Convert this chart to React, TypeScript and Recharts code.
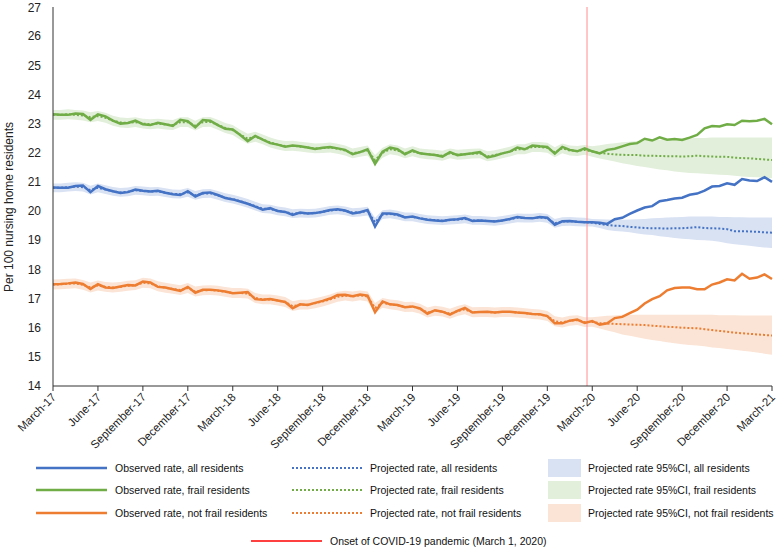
import { ComposedChart, Line, Area, XAxis, YAxis, ReferenceLine, Label } from 'recharts';

// half-month steps from March 2017 (0) to March 2021 (48)
const halfMonths = Array.from({ length: 97 }, (_, i) => i / 2);

const tickMonths = [0, 3, 6, 9, 12, 15, 18, 21, 24, 27, 30, 33, 36, 39, 42, 45, 48];
const tickLabels = [
  'March-17', 'June-17', 'September-17', 'December-17',
  'March-18', 'June-18', 'September-18', 'December-18',
  'March-19', 'June-19', 'September-19', 'December-19',
  'March-20', 'June-20', 'September-20', 'December-20', 'March-21',
];
const yTicks = [14, 15, 16, 17, 18, 19, 20, 21, 22, 23, 24, 25, 26, 27];
const onsetMonth = 35.65;

const observedAll = [
  20.81, 20.80, 20.80, 20.86, 20.88, 20.65, 20.86, 20.75, 20.68, 20.62, 20.65, 20.74, 20.70, 20.67, 20.70, 20.63, 20.58, 20.55, 20.68, 20.50, 20.62, 20.64, 20.55, 20.45,
  20.40, 20.33, 20.25, 20.15, 20.05, 20.10, 20.00, 19.97, 19.87, 19.95, 19.92, 19.93, 19.98, 20.04, 20.06, 20.02, 19.92, 19.96, 20.04, 19.47, 19.92, 19.92, 19.88, 19.78,
  19.81, 19.75, 19.70, 19.68, 19.66, 19.70, 19.72, 19.76, 19.66, 19.68, 19.66, 19.64, 19.68, 19.73, 19.80, 19.76, 19.75, 19.80, 19.77, 19.53, 19.65, 19.66, 19.63, 19.62,
  19.62, 19.60, 19.56, 19.72, 19.77, 19.90, 20.02, 20.12, 20.17, 20.34, 20.38, 20.43, 20.46, 20.56, 20.60, 20.70, 20.84, 20.86, 20.95, 20.90, 21.10, 21.05, 21.03, 21.16, 21.00,
];
const observedFrail = [
  23.32, 23.30, 23.30, 23.35, 23.33, 23.13, 23.32, 23.25, 23.10, 23.00, 23.02, 23.10, 22.98, 22.95, 23.03, 22.98, 22.92, 23.13, 23.08, 22.87, 23.12, 23.10, 22.95, 22.82,
  22.80, 22.61, 22.40, 22.58, 22.45, 22.33, 22.28, 22.21, 22.25, 22.22, 22.18, 22.13, 22.17, 22.20, 22.15, 22.10, 21.95, 22.02, 22.12, 21.62, 22.04, 22.18, 22.12, 21.95,
  22.08, 21.98, 21.95, 21.92, 21.87, 22.02, 21.92, 21.95, 21.98, 22.02, 21.84, 21.90, 21.98, 22.04, 22.18, 22.12, 22.25, 22.22, 22.20, 21.97, 22.20, 22.10, 22.05, 22.15,
  22.05, 21.98, 22.10, 22.14, 22.22, 22.30, 22.33, 22.48, 22.42, 22.53, 22.45, 22.47, 22.44, 22.52, 22.61, 22.84, 22.92, 22.90, 22.98, 22.95, 23.10, 23.08, 23.10, 23.16, 22.98,
];
const observedNotFrail = [
  17.49, 17.50, 17.52, 17.55, 17.50, 17.33, 17.49, 17.38, 17.36, 17.41, 17.46, 17.45, 17.58, 17.55, 17.40, 17.38, 17.32, 17.26, 17.40, 17.20, 17.30, 17.30, 17.28, 17.24,
  17.18, 17.20, 17.22, 16.98, 16.96, 16.98, 16.93, 16.88, 16.67, 16.80, 16.78, 16.85, 16.92, 17.00, 17.12, 17.13, 17.08, 17.14, 17.10, 16.53, 16.90, 16.80, 16.78, 16.70,
  16.73, 16.66, 16.48, 16.60, 16.55, 16.45, 16.58, 16.68, 16.52, 16.54, 16.55, 16.52, 16.55, 16.55, 16.52, 16.50, 16.47, 16.46, 16.40, 16.15, 16.15, 16.24, 16.28, 16.16,
  16.23, 16.10, 16.15, 16.33, 16.37, 16.50, 16.62, 16.83, 16.98, 17.08, 17.28, 17.36, 17.38, 17.38, 17.32, 17.32, 17.48, 17.55, 17.66, 17.62, 17.85, 17.68, 17.72, 17.83, 17.67,
];

const projectedAll = [
  20.80, 20.80, 20.82, 20.84, 20.82, 20.72, 20.80, 20.74, 20.68, 20.64, 20.66, 20.71, 20.69, 20.67, 20.68, 20.63, 20.59, 20.58, 20.64, 20.54, 20.60, 20.61, 20.54, 20.46,
  20.41, 20.34, 20.26, 20.17, 20.08, 20.07, 20.01, 19.97, 19.91, 19.93, 19.92, 19.93, 19.97, 20.02, 20.04, 20.01, 19.95, 19.96, 20.00, 19.62, 19.88, 19.90, 19.86, 19.80,
  19.80, 19.75, 19.71, 19.69, 19.67, 19.69, 19.71, 19.73, 19.68, 19.68, 19.66, 19.65, 19.68, 19.72, 19.77, 19.76, 19.76, 19.78, 19.75, 19.58, 19.64, 19.65, 19.63, 19.62,
  19.60, 19.56, 19.52, 19.50, 19.49, 19.46, 19.44, 19.42, 19.41, 19.41, 19.40, 19.41, 19.41, 19.43, 19.45, 19.42, 19.41, 19.40, 19.38, 19.31, 19.31, 19.30, 19.29, 19.27, 19.26,
];
const projectedFrail = [
  23.30, 23.30, 23.32, 23.30, 23.28, 23.22, 23.26, 23.20, 23.10, 23.04, 23.02, 23.05, 23.00, 22.98, 23.00, 22.97, 22.95, 23.05, 23.05, 22.93, 23.05, 23.06, 22.96, 22.85,
  22.78, 22.62, 22.48, 22.55, 22.46, 22.35, 22.28, 22.23, 22.24, 22.21, 22.18, 22.15, 22.16, 22.18, 22.14, 22.08, 21.98, 22.03, 22.08, 21.75, 22.00, 22.12, 22.08, 21.98,
  22.05, 21.98, 21.95, 21.93, 21.90, 21.98, 21.93, 21.95, 21.97, 21.98, 21.88, 21.92, 21.98, 22.04, 22.12, 22.12, 22.20, 22.20, 22.17, 22.02, 22.15, 22.08, 22.06, 22.10,
  22.04, 22.00, 21.97, 21.94, 21.93, 21.92, 21.92, 21.90, 21.90, 21.89, 21.88, 21.88, 21.87, 21.88, 21.90, 21.88, 21.87, 21.86, 21.86, 21.83, 21.82, 21.81, 21.79, 21.77, 21.75,
];
const projectedNotFrail = [
  17.48, 17.49, 17.51, 17.52, 17.47, 17.38, 17.45, 17.40, 17.38, 17.40, 17.44, 17.46, 17.54, 17.52, 17.42, 17.37, 17.33, 17.29, 17.36, 17.24, 17.28, 17.29, 17.27, 17.23,
  17.19, 17.19, 17.17, 17.02, 16.97, 16.97, 16.93, 16.88, 16.74, 16.79, 16.79, 16.84, 16.90, 16.97, 17.06, 17.10, 17.07, 17.11, 17.07, 16.68, 16.85, 16.80, 16.77, 16.71,
  16.72, 16.65, 16.52, 16.58, 16.55, 16.48, 16.57, 16.63, 16.53, 16.54, 16.54, 16.52, 16.54, 16.54, 16.52, 16.50, 16.47, 16.45, 16.40, 16.22, 16.18, 16.24, 16.26, 16.19,
  16.20, 16.16, 16.14, 16.13, 16.12, 16.11, 16.10, 16.09, 16.07, 16.05, 16.03, 16.02, 16.00, 15.99, 15.98, 15.95, 15.92, 15.89, 15.86, 15.83, 15.81, 15.79, 15.77, 15.75, 15.73,
];

const ciAllLow = [
  20.65, 20.65, 20.67, 20.69, 20.67, 20.57, 20.65, 20.59, 20.53, 20.49, 20.51, 20.56, 20.54, 20.52, 20.53, 20.48, 20.44, 20.43, 20.49, 20.39, 20.45, 20.46, 20.39, 20.31,
  20.26, 20.19, 20.11, 20.02, 19.93, 19.92, 19.86, 19.82, 19.76, 19.78, 19.77, 19.78, 19.82, 19.87, 19.89, 19.86, 19.80, 19.81, 19.85, 19.47, 19.73, 19.75, 19.71, 19.65,
  19.65, 19.60, 19.56, 19.54, 19.52, 19.54, 19.56, 19.58, 19.53, 19.53, 19.51, 19.50, 19.53, 19.57, 19.62, 19.61, 19.61, 19.63, 19.60, 19.43, 19.49, 19.50, 19.48, 19.47,
  19.47, 19.42, 19.35, 19.32, 19.30, 19.27, 19.23, 19.20, 19.18, 19.14, 19.11, 19.08, 19.05, 19.03, 19.01, 19.00, 18.98, 18.95, 18.90, 18.86, 18.84, 18.81, 18.78, 18.75, 18.73,
];
const ciAllHigh = [
  20.95, 20.95, 20.97, 20.99, 20.97, 20.87, 20.95, 20.89, 20.83, 20.79, 20.81, 20.86, 20.84, 20.82, 20.83, 20.78, 20.74, 20.73, 20.79, 20.69, 20.75, 20.76, 20.69, 20.61,
  20.56, 20.49, 20.41, 20.32, 20.23, 20.22, 20.16, 20.12, 20.06, 20.08, 20.07, 20.08, 20.12, 20.17, 20.19, 20.16, 20.10, 20.11, 20.15, 19.77, 20.03, 20.05, 20.01, 19.95,
  19.95, 19.90, 19.86, 19.84, 19.82, 19.84, 19.86, 19.88, 19.83, 19.83, 19.81, 19.80, 19.83, 19.87, 19.92, 19.91, 19.91, 19.93, 19.90, 19.73, 19.79, 19.80, 19.78, 19.77,
  19.73, 19.72, 19.71, 19.70, 19.70, 19.71, 19.72, 19.73, 19.75, 19.76, 19.78, 19.79, 19.80, 19.81, 19.81, 19.81, 19.81, 19.80, 19.80, 19.79, 19.79, 19.78, 19.78, 19.78, 19.78,
];
const ciFrailLow = [
  23.13, 23.13, 23.15, 23.13, 23.11, 23.05, 23.09, 23.03, 22.93, 22.87, 22.85, 22.88, 22.83, 22.81, 22.83, 22.80, 22.78, 22.88, 22.88, 22.76, 22.88, 22.89, 22.79, 22.68,
  22.61, 22.45, 22.31, 22.38, 22.29, 22.18, 22.11, 22.06, 22.07, 22.04, 22.01, 21.98, 21.99, 22.01, 21.97, 21.91, 21.81, 21.86, 21.91, 21.58, 21.83, 21.95, 21.91, 21.81,
  21.88, 21.81, 21.78, 21.76, 21.73, 21.81, 21.76, 21.78, 21.80, 21.81, 21.71, 21.75, 21.81, 21.87, 21.95, 21.95, 22.03, 22.03, 22.00, 21.85, 21.98, 21.91, 21.89, 21.93,
  21.86, 21.80, 21.75, 21.70, 21.64, 21.60, 21.55, 21.51, 21.47, 21.43, 21.40, 21.36, 21.33, 21.31, 21.30, 21.28, 21.26, 21.25, 21.24, 21.21, 21.19, 21.17, 21.16, 21.14, 21.13,
];
const ciFrailHigh = [
  23.47, 23.47, 23.49, 23.47, 23.45, 23.39, 23.43, 23.37, 23.27, 23.21, 23.19, 23.22, 23.17, 23.15, 23.17, 23.14, 23.12, 23.22, 23.22, 23.10, 23.22, 23.23, 23.13, 23.02,
  22.95, 22.79, 22.65, 22.72, 22.63, 22.52, 22.45, 22.40, 22.41, 22.38, 22.35, 22.32, 22.33, 22.35, 22.31, 22.25, 22.15, 22.20, 22.25, 21.92, 22.17, 22.29, 22.25, 22.15,
  22.22, 22.15, 22.12, 22.10, 22.07, 22.15, 22.10, 22.12, 22.14, 22.15, 22.05, 22.09, 22.15, 22.21, 22.29, 22.29, 22.37, 22.37, 22.34, 22.19, 22.32, 22.25, 22.23, 22.27,
  22.22, 22.26, 22.30, 22.33, 22.36, 22.38, 22.40, 22.42, 22.44, 22.45, 22.46, 22.48, 22.50, 22.50, 22.51, 22.51, 22.52, 22.52, 22.52, 22.52, 22.52, 22.52, 22.52, 22.52, 22.52,
];
const ciNotFrailLow = [
  17.31, 17.32, 17.34, 17.35, 17.30, 17.21, 17.28, 17.23, 17.21, 17.23, 17.27, 17.29, 17.37, 17.35, 17.25, 17.20, 17.16, 17.12, 17.19, 17.07, 17.11, 17.12, 17.10, 17.06,
  17.02, 17.02, 17.00, 16.85, 16.80, 16.80, 16.76, 16.71, 16.57, 16.62, 16.62, 16.67, 16.73, 16.80, 16.89, 16.93, 16.90, 16.94, 16.90, 16.51, 16.68, 16.63, 16.60, 16.54,
  16.55, 16.48, 16.35, 16.41, 16.38, 16.31, 16.40, 16.46, 16.36, 16.37, 16.37, 16.35, 16.37, 16.37, 16.35, 16.33, 16.30, 16.28, 16.23, 16.05, 16.01, 16.07, 16.09, 16.02,
  16.03, 15.97, 15.90, 15.84, 15.77, 15.72, 15.67, 15.62, 15.58, 15.54, 15.50, 15.47, 15.43, 15.41, 15.39, 15.36, 15.32, 15.30, 15.27, 15.24, 15.21, 15.18, 15.15, 15.11, 15.07,
];
const ciNotFrailHigh = [
  17.65, 17.66, 17.68, 17.69, 17.64, 17.55, 17.62, 17.57, 17.55, 17.57, 17.61, 17.63, 17.71, 17.69, 17.59, 17.54, 17.50, 17.46, 17.53, 17.41, 17.45, 17.46, 17.44, 17.40,
  17.36, 17.36, 17.34, 17.19, 17.14, 17.14, 17.10, 17.05, 16.91, 16.96, 16.96, 17.01, 17.07, 17.14, 17.23, 17.27, 17.24, 17.28, 17.24, 16.85, 17.02, 16.97, 16.94, 16.88,
  16.89, 16.82, 16.69, 16.75, 16.72, 16.65, 16.74, 16.80, 16.70, 16.71, 16.71, 16.69, 16.71, 16.71, 16.69, 16.67, 16.64, 16.62, 16.57, 16.39, 16.35, 16.41, 16.43, 16.36,
  16.36, 16.38, 16.41, 16.42, 16.44, 16.44, 16.44, 16.44, 16.44, 16.44, 16.44, 16.44, 16.44, 16.44, 16.44, 16.44, 16.44, 16.43, 16.43, 16.43, 16.42, 16.42, 16.42, 16.42, 16.42,
];

const BLUE = '#4472C4';
const GREEN = '#70AD47';
const ORANGE = '#ED7D31';
const BLUE_CI = '#D9E2F3';
const GREEN_CI = '#E2EFDA';
const ORANGE_CI = '#FBE4D5';

const data = halfMonths.map((m, i) => ({
  m,
  obsAll: observedAll[i],
  obsFrail: observedFrail[i],
  obsNotFrail: observedNotFrail[i],
  projAll: projectedAll[i],
  projFrail: projectedFrail[i],
  projNotFrail: projectedNotFrail[i],
  ciAll: [ciAllLow[i], ciAllHigh[i]],
  ciFrail: [ciFrailLow[i], ciFrailHigh[i]],
  ciNotFrail: [ciNotFrailLow[i], ciNotFrailHigh[i]],
}));

const font = '"Liberation Sans", Arial, sans-serif';

function MonthTick({ x, y, payload }: any) {
  const idx = tickMonths.indexOf(payload.value);
  return (
    <g transform={`translate(${x + 1},${y + 2})`}>
      <text x={0} y={0} dy="0.35em" textAnchor="end" transform="rotate(-45)" fontSize={11.5} fill="#222" fontFamily={font}>
        {tickLabels[idx]}
      </text>
    </g>
  );
}

function YTitle() {
  const cx = 9;
  const cy = 207;
  return (
    <text x={cx} y={cy} transform={`rotate(-90, ${cx}, ${cy})`} textAnchor="middle" dominantBaseline="central" fontSize={12} fill="#222" fontFamily={font}>
      Per 100 nursing home residents
    </text>
  );
}

const legendRows = [
  { y: 468, color: BLUE, fill: BLUE_CI, who: 'all residents' },
  { y: 490, color: GREEN, fill: GREEN_CI, who: 'frail residents' },
  { y: 513, color: ORANGE, fill: ORANGE_CI, who: 'not frail residents' },
];

function ChartLegend() {
  const text = { position: 'absolute' as const, fontSize: 10.5, fontFamily: font, color: '#111', lineHeight: '14px', whiteSpace: 'nowrap' as const };
  return (
    <>
      {legendRows.map((r) => (
        <div key={r.who}>
          <svg style={{ position: 'absolute', left: 0, top: 0 }} width={777} height={548}>
            <line x1={36} x2={107} y1={r.y} y2={r.y} stroke={r.color} strokeWidth={2.5} />
            <line x1={292} x2={363} y1={r.y} y2={r.y} stroke={r.color} strokeWidth={2} strokeDasharray="2 2" />
            <rect x={548} y={r.y - 9} width={33} height={18} fill={r.fill} />
          </svg>
          <div style={{ ...text, left: 115, top: r.y - 7 }}>Observed rate, {r.who}</div>
          <div style={{ ...text, left: 370, top: r.y - 7 }}>Projected rate, {r.who}</div>
          <div style={{ ...text, left: 588, top: r.y - 7 }}>Projected rate 95%CI, {r.who}</div>
        </div>
      ))}
      <svg style={{ position: 'absolute', left: 0, top: 0 }} width={777} height={548}>
        <line x1={251} x2={322} y1={541} y2={541} stroke="#FF0000" strokeWidth={1.5} />
      </svg>
      <div style={{ ...text, left: 330, top: 534 }}>Onset of COVID-19 pandemic (March 1, 2020)</div>
    </>
  );
}

export default function App() {
  return (
    <div style={{ position: 'absolute', left: 0, top: 0, width: 777, height: 548, background: '#fff', overflow: 'hidden' }}>
      <ComposedChart width={777} height={470} data={data} margin={{ top: 7, right: 5, left: 0, bottom: 0 }}>
        <XAxis
          dataKey="m"
          type="number"
          domain={[0, 48]}
          ticks={tickMonths}
          interval={0}
          height={84}
          tick={<MonthTick />}
          tickSize={5}
          tickMargin={2}
          stroke="#333"
          allowDecimals
        />
        <YAxis
          domain={[14, 27]}
          ticks={yTicks}
          width={53}
          tickLine={false}
          tickSize={0}
          tickMargin={12}
          stroke="#333"
          tick={{ fontSize: 12, fill: '#222', fontFamily: font }}
        >
          <Label content={<YTitle />} />
        </YAxis>
        <Area dataKey="ciAll" stroke="none" fill={BLUE_CI} fillOpacity={1} isAnimationActive={false} />
        <Area dataKey="ciFrail" stroke="none" fill={GREEN_CI} fillOpacity={1} isAnimationActive={false} />
        <Area dataKey="ciNotFrail" stroke="none" fill={ORANGE_CI} fillOpacity={1} isAnimationActive={false} />
        <ReferenceLine x={onsetMonth} stroke="#FFA0A0" strokeWidth={1.2} />
        <Line dataKey="projAll" stroke={BLUE} strokeWidth={2} strokeDasharray="2 2" dot={false} isAnimationActive={false} />
        <Line dataKey="projFrail" stroke={GREEN} strokeWidth={2} strokeDasharray="2 2" dot={false} isAnimationActive={false} />
        <Line dataKey="projNotFrail" stroke={ORANGE} strokeWidth={2} strokeDasharray="2 2" dot={false} isAnimationActive={false} />
        <Line dataKey="obsAll" stroke={BLUE} strokeWidth={2.5} dot={false} isAnimationActive={false} />
        <Line dataKey="obsFrail" stroke={GREEN} strokeWidth={2.5} dot={false} isAnimationActive={false} />
        <Line dataKey="obsNotFrail" stroke={ORANGE} strokeWidth={2.5} dot={false} isAnimationActive={false} />
      </ComposedChart>
      <ChartLegend />
    </div>
  );
}
